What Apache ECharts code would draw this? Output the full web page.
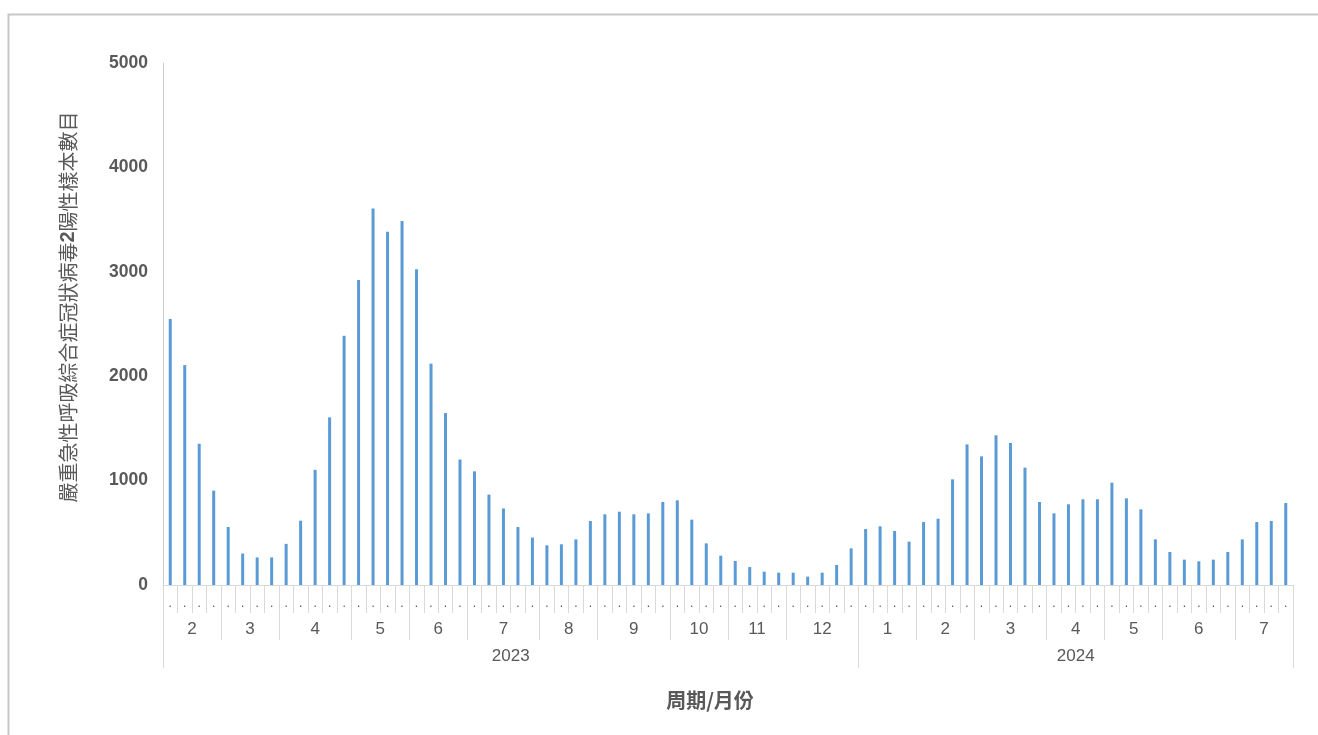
<!DOCTYPE html>
<html>
<head>
<meta charset="utf-8">
<script src="https://cdn.jsdelivr.net/npm/echarts@6/dist/echarts.min.js"></script>
<style>
  html, body { margin: 0; padding: 0; background: #fff; }
  #chart { width: 1318px; height: 735px; }
</style>
</head>
<body>
<div id="chart"></div>
<script>
// ---- Data ----
const years = ['2023', '2024'];
const monthsPerYear = [11, 7];
const monthLabels = ['2','3','4','5','6','7','8','9','10','11','12','1','2','3','4','5','6','7'];
const weeksPerMonth = [4,4,5,4,4,5,4,5,4,4,5,4,4,5,4,4,5,4];
const positives = [
  2548, 2106, 1353, 904,
  555, 301, 264, 264,
  394, 616, 1103, 1606, 2387,
  2921, 3606, 3384, 3486,
  3024, 2120, 1647, 1202,
  1089, 866, 733, 555, 455,
  380, 390, 437, 613,
  677, 702, 677, 686, 795,
  811, 626, 399, 281,
  230, 172, 128, 118,
  118, 80, 118, 192, 351,
  536, 562, 517, 415,
  603, 635, 1012, 1347,
  1232, 1434, 1360, 1124, 795,
  686, 773, 821, 821,
  980, 830, 725, 437,
  316, 243, 227, 243, 316,
  437, 603, 613, 785
];
const weekLabel = '.';
const yTicks = { min: 0, max: 5000, interval: 1000 };
const yAxisTitle = '嚴重急性呼吸綜合症冠狀病毒{b|2}陽性樣本數目';
const xAxisTitle = '周期/月份';

// ---- Derived axis structures ----
const weekCategories = [];
const monthBounds = [0];
const monthCenters = [];
const monthCenterLabel = {};
let mIdx = 0, wPos = 0;
const yearBounds = [0];
const yearCenters = [];
const yearCenterLabel = {};
years.forEach((yr, yi) => {
  const yStart = wPos;
  for (let k = 0; k < monthsPerYear[yi]; k++, mIdx++) {
    const n = weeksPerMonth[mIdx];
    for (let w = 0; w < n; w++) weekCategories.push(yr + '-' + monthLabels[mIdx] + '-' + (w + 1));
    const c = wPos + n / 2;
    monthCenters.push(c);
    monthCenterLabel[c.toFixed(2)] = monthLabels[mIdx];
    wPos += n;
    monthBounds.push(wPos);
  }
  const yc = (yStart + wPos) / 2;
  yearCenters.push(yc);
  yearCenterLabel[yc.toFixed(2)] = yr;
  yearBounds.push(wPos);
});
const totalWeeks = wPos;

const gray = '#d9d9d9';
const textGray = '#595959';

const chart = echarts.init(document.getElementById('chart'));
chart.setOption({
  animation: false,
  backgroundColor: '#ffffff',
  grid: { left: 163, right: 25, top: 63, bottom: 150, containLabel: false },
  xAxis: [
    {
      type: 'category',
      data: weekCategories,
      boundaryGap: true,
      axisLine: { show: true, lineStyle: { color: gray, width: 1 } },
      axisTick: { show: true, interval: 0, length: 28, lineStyle: { color: gray } },
      axisLabel: { interval: 0, formatter: () => weekLabel, margin: 13, fontSize: 12, color: textGray, fontFamily: 'Liberation Sans' },
      splitLine: { show: false }
    },
    {
      type: 'value',
      min: 0, max: totalWeeks,
      position: 'bottom',
      axisLine: { show: false },
      splitLine: { show: false },
      axisTick: { show: true, customValues: monthBounds, length: 55, lineStyle: { color: gray } },
      axisLabel: {
        show: true, customValues: monthCenters, margin: 36, fontSize: 17, color: textGray,
        fontFamily: 'Liberation Sans',
        formatter: v => monthCenterLabel[Number(v).toFixed(2)] || ''
      }
    },
    {
      type: 'value',
      min: 0, max: totalWeeks,
      position: 'bottom',
      axisLine: { show: false },
      splitLine: { show: false },
      axisTick: { show: true, customValues: yearBounds, length: 83, lineStyle: { color: gray } },
      axisLabel: {
        show: true, customValues: yearCenters, margin: 63, fontSize: 17, color: textGray,
        fontFamily: 'Liberation Sans',
        formatter: v => yearCenterLabel[Number(v).toFixed(2)] || ''
      }
    }
  ],
  yAxis: {
    type: 'value',
    min: yTicks.min, max: yTicks.max, interval: yTicks.interval,
    axisLine: { show: true, lineStyle: { color: '#cfcfcf', width: 1 } },
    axisTick: { show: false },
    splitLine: { show: false },
    axisLabel: { margin: 15, fontSize: 17.5, fontWeight: 'bold', color: textGray, fontFamily: 'Liberation Sans',
      formatter: v => String(v) }
  },
  series: [{
    type: 'bar',
    data: positives,
    xAxisIndex: 0,
    barWidth: 3,
    itemStyle: { color: '#5b9bd5' }
  }],
  graphic: [
    {
      type: 'rect', silent: true, z: -1,
      shape: { x: 8.5, y: 14.5, width: 1400, height: 800 },
      style: { fill: 'none', stroke: '#c8c8c8', lineWidth: 2 }
    },
    {
      type: 'text',
      x: 68, y: 307, rotation: Math.PI / 2,
      style: {
        text: yAxisTitle,
        align: 'center', verticalAlign: 'middle',
        fontSize: 20, fill: textGray,
        fontFamily: '"Noto Sans CJK TC", "Noto Sans CJK SC", sans-serif',
        rich: { b: { fontSize: 20, fontWeight: 'bold', fill: textGray, fontFamily: 'Liberation Sans' } }
      }
    },
    {
      type: 'text',
      x: 710, y: 700,
      style: {
        text: xAxisTitle,
        align: 'center', verticalAlign: 'middle',
        fontSize: 20, fontWeight: 'bold', fill: textGray,
        fontFamily: '"Noto Sans CJK TC", "Noto Sans CJK SC", sans-serif'
      }
    }
  ]
});
</script>
</body>
</html>
